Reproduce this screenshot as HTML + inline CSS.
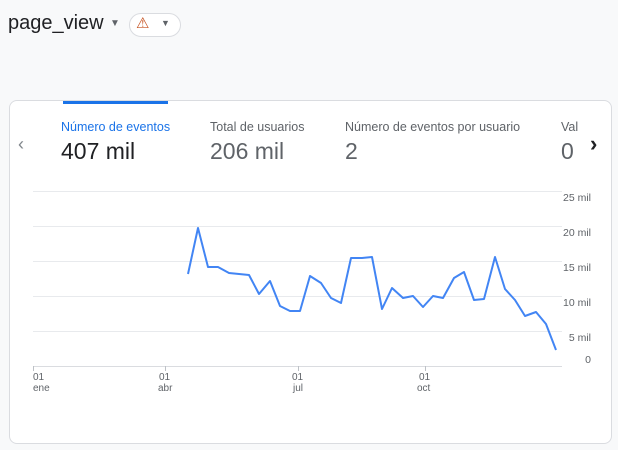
<!DOCTYPE html>
<html><head><style>
body{margin:0;width:618px;height:450px;background:#f8f9fa;font-family:"Liberation Sans",sans-serif;position:relative;overflow:hidden}
.a{position:absolute;white-space:nowrap}
.card{position:absolute;left:9px;top:100px;width:601px;height:342px;background:#fff;border:1px solid #dadce0;border-radius:8px;overflow:hidden}
</style></head><body>
<div class="a" style="left:8px;top:12px;font-size:20px;color:#202124">page_view</div>
<div class="a" style="left:110px;top:18px;font-size:10px;color:#5f6368">▼</div>
<div class="a" style="left:129px;top:13px;width:50px;height:22px;border:1px solid #dadce0;border-radius:12px;background:#fff"></div>
<div class="a" style="left:136px;top:14px;font-size:15px;color:#c5501e">⚠</div>
<div class="a" style="left:161px;top:18px;font-size:9px;color:#5f6368">▼</div>
<div class="card">
<div class="a" style="left:53px;top:0;width:105px;height:3px;background:#1a73e8"></div>
</div>
<div class="a" style="left:18px;top:134px;font-size:18px;color:#80868b">‹</div>
<div class="a" style="left:61px;top:120px;font-size:12.5px;color:#1a73e8">Número de eventos</div>
<div class="a" style="left:61px;top:138px;font-size:23px;color:#202124">407 mil</div>
<div class="a" style="left:210px;top:120px;font-size:12.5px;color:#5f6368">Total de usuarios</div>
<div class="a" style="left:210px;top:138px;font-size:23px;color:#5f6368">206 mil</div>
<div class="a" style="left:345px;top:120px;font-size:12.5px;color:#5f6368">Número de eventos por usuario</div>
<div class="a" style="left:345px;top:138px;font-size:23px;color:#5f6368">2</div>
<div class="a" style="left:561px;top:120px;font-size:12.5px;color:#5f6368">Valo</div>
<div class="a" style="left:561px;top:138px;font-size:23px;color:#5f6368">0</div>
<div class="a" style="left:578px;top:110px;width:31px;height:60px;background:#fff"></div>
<div class="a" style="left:590px;top:131px;font-size:22px;font-weight:bold;color:#202124">›</div>
<svg class="a" style="left:0;top:0" width="618" height="450">
<g stroke="#e8eaed" stroke-width="1">
<line x1="33" x2="562" y1="191.5" y2="191.5"/><line x1="33" x2="562" y1="226.5" y2="226.5"/>
<line x1="33" x2="562" y1="261.5" y2="261.5"/><line x1="33" x2="562" y1="296.5" y2="296.5"/>
<line x1="33" x2="562" y1="331.5" y2="331.5"/></g>
<line x1="33" x2="562" y1="366.5" y2="366.5" stroke="#dadce0"/>
<g stroke="#bdc1c6"><line x1="33.5" x2="33.5" y1="366" y2="371"/><line x1="165.5" x2="165.5" y1="366" y2="371"/><line x1="298.5" x2="298.5" y1="366" y2="371"/><line x1="425.5" x2="425.5" y1="366" y2="371"/></g>
<polyline fill="none" stroke="#4285f4" stroke-width="2" stroke-linejoin="round" points="188,274 198,228 208,267 218,267 229,273 239,274 249,275 259,294 270,281 280,306 290,311 300,311 310,276 321,283 331,298 341,303 351,258 362,258 372,257 382,309 392,288 403,298 413,296 423,307 433,296 443,298 454,278 464,272 474,300 484,299 495,257 505,289 515,300 525,316 536,312 546,324 556,350"/>
<g font-family="Liberation Sans,sans-serif" font-size="10.5" fill="#5f6368" text-anchor="end">
<text x="591" y="201">25 mil</text><text x="591" y="236">20 mil</text><text x="591" y="271">15 mil</text>
<text x="591" y="306">10 mil</text><text x="591" y="341">5 mil</text><text x="591" y="363">0</text></g>
<g font-family="Liberation Sans,sans-serif" font-size="10" fill="#5f6368">
<text x="33" y="380">01</text><text x="33" y="391">ene</text>
<text x="159" y="380">01</text><text x="158" y="391">abr</text>
<text x="292" y="380">01</text><text x="293" y="391">jul</text>
<text x="419" y="380">01</text><text x="417" y="391">oct</text></g>
</svg>
</body></html>
